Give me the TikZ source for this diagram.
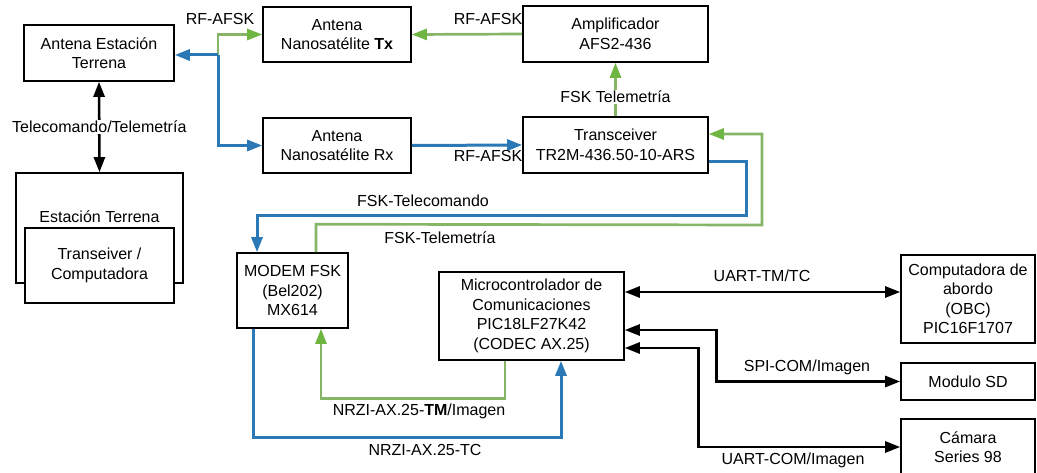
\documentclass[tikz,border=0pt]{standalone}
\usepackage{fontspec}
\setmainfont{Liberation Sans}
\usetikzlibrary{arrows.meta,calc}
\definecolor{linkblue}{HTML}{2A79B6}
\definecolor{linkgreen}{HTML}{86B568}
\definecolor{tipgreen}{HTML}{6FB542}
\begin{document}
\begin{tikzpicture}[x=1pt,y=-1pt,
  every node/.style={font=\fontsize{16}{19.5}\selectfont, align=center, inner sep=2pt},
  block/.style={draw=black, line width=1.6pt, fill=white, inner sep=0pt},
  lbl/.style={fill=none},
  bl/.style={draw=linkblue, line width=3pt, -{Triangle[length=15pt,width=11pt]}},
  gr/.style={draw=linkgreen, line width=2.7pt, -{Triangle[length=15pt,width=11pt,color=tipgreen]}},
  bk/.style={draw=black, line width=2.6pt, {Triangle[length=15pt,width=11pt]}-{Triangle[length=15pt,width=11pt]}}]
\useasboundingbox (0,0) rectangle (1037,473);
\clip (0,0) rectangle (1037,473);

% blocks
\node[block, minimum width=150pt, minimum height=56pt] (aet) at (99,53) {Antena Estación\\Terrena};
\node[block, minimum width=148pt, minimum height=55pt] (tx) at (337,34.5) {Antena\\Nanosatélite \textbf{Tx}};
\node[block, minimum width=185pt, minimum height=56pt] (amp) at (615.5,34) {Amplificador\\AFS2-436};
\node[block, minimum width=148pt, minimum height=55pt] (rx) at (337,145.5) {Antena\\Nanosatélite Rx};
\node[block, minimum width=185pt, minimum height=56pt] (trx) at (615.5,145) {Transceiver\\TR2M-436.50-10-ARS};
\node[block, minimum width=167pt, minimum height=110pt] (et) at (99.5,228) {};
\node (etl) at (99.5,217) {Estación Terrena};
\node[block, minimum width=149pt, minimum height=75pt] (tc) at (99.5,265.5) {Transeiver /\\Computadora};
\node[block, minimum width=111pt, minimum height=75pt] (modem) at (292.5,290.5) {MODEM FSK\\(Bel202)\\MX614};
\node[block, minimum width=185pt, minimum height=88pt] (mcu) at (531.5,316) {Microcontrolador de\\Comunicaciones\\PIC18LF27K42\\(CODEC AX.25)};
\node[block, minimum width=134pt, minimum height=88pt] (obc) at (968,299) {Computadora de\\abordo\\(OBC)\\PIC16F1707};
\node[block, minimum width=134pt, minimum height=37pt] (sd) at (968,381.5) {Modulo SD};
\node[block, minimum width=134pt, minimum height=56pt] (cam) at (968,447) {Cámara\\Series 98};

% ground station antenna links
\coordinate (j) at (218,55);
\draw[gr] (j) |- (tx.west);
\draw[bl] (j) -- (j -| aet.east);
\draw[bl] (j) |- (rx.west);
\node[lbl] (rf1) at (220,19) {RF-AFSK};

\draw[gr] (amp.west) -- (tx.east);
\node[lbl] (rf2) at (488,19) {RF-AFSK};
\draw[gr] (trx.north) -- node[pos=0.36, fill=white, inner sep=1pt] (fskt) {FSK Telemetría} (amp.south);
\draw[bl] (rx.east) -- (trx.west);
\node[lbl] (rf3) at (488,156) {RF-AFSK};

% transceiver <-> modem
\draw[bl] ($(trx.east)+(0,17)$) -- ++(38,0) -- ++(0,54) -| ($(modem.north)+(-35.5,0)$);
\node[lbl] (ftc) at (423,201) {FSK-Telecomando};
\draw[gr] ($(modem.north)+(23.5,0)$) -- ++(0,-28) -- (762,225) |- ($(trx.east)+(0,-11)$);
\node[lbl] (ftm) at (440,238) {FSK-Telemetría};

% modem <-> microcontroller
\draw[bl] ($(modem.south)+(-39.5,0)$) -- ++(0,109) -| ($(mcu.south)+(29.5,0)$);
\node[lbl] (nrtc) at (425,450) {NRZI-AX.25-TC};
\draw[gr] ($(mcu.south)+(-26.5,0)$) -- ++(0,38) -| ($(modem.south)+(28.5,0)$);
\node[lbl] (nrtm) at (419,411) {NRZI-AX.25-\textbf{TM}/Imagen};

% microcontroller peripherals
\coordinate (yU) at (0,292);
\coordinate (yS) at (0,330);
\coordinate (yC) at (0,348);
\draw[bk] (mcu.east |- yU) -- (obc.west |- yU);
\node[lbl] (utc) at (762,276) {UART-TM/TC};
\draw[bk] (mcu.east |- yS) -| ($(sd.west)+(-184,0)$) -- (sd.west);
\node[lbl] (spi) at (807,367) {SPI-COM/Imagen};
\draw[bk] (mcu.east |- yC) -| ($(cam.west)+(-202,0)$) -- (cam.west);
\node[lbl] (ucom) at (793,460) {UART-COM/Imagen};

% ground station
\draw[bk] (aet.south) -- node[fill=white, inner sep=1pt] (tctm) {Telecomando/Telemetría} (et.north);
\end{tikzpicture}
\end{document}
